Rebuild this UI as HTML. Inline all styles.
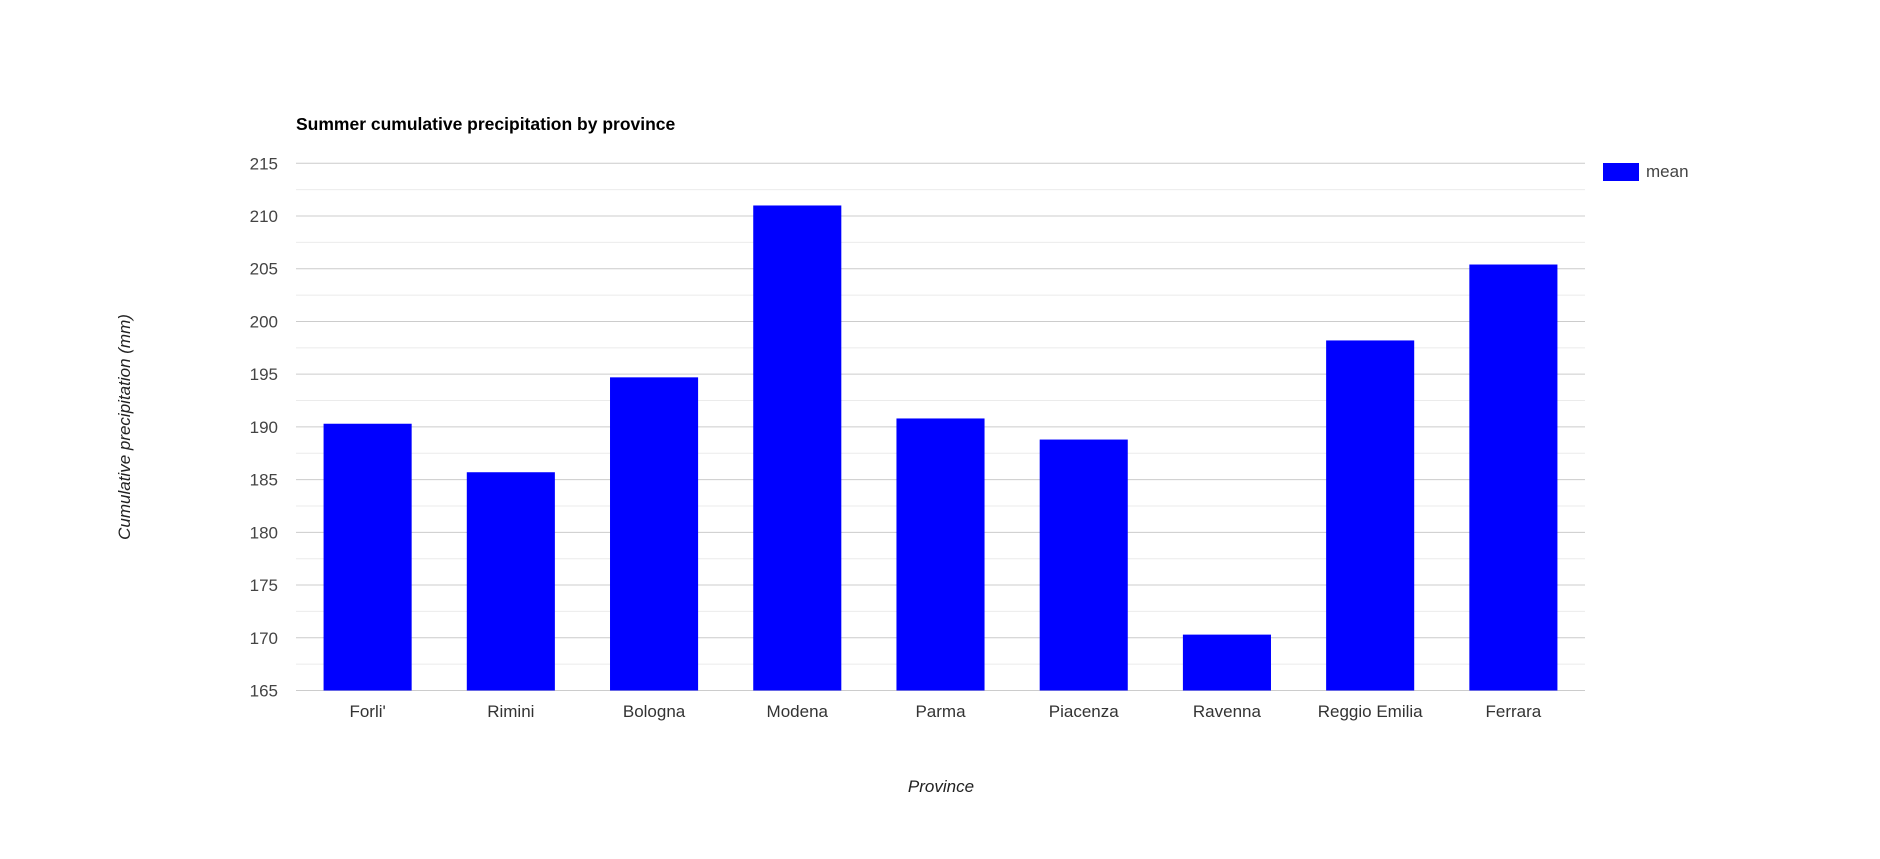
<!DOCTYPE html>
<html><head><meta charset="utf-8"><style>
body{margin:0;background:#fff;}
svg text{font-family:"Liberation Sans",Arial,sans-serif;}
</style></head><body>
<svg id="chart" width="1880" height="854" xmlns="http://www.w3.org/2000/svg">
<rect width="1880" height="854" fill="#fff"/>
<text x="296" y="130" font-size="17.5" font-weight="bold" fill="#000">Summer cumulative precipitation by province</text>
<g id="grid"></g><g id="bars"></g><g id="labels"></g>
<text x="941" y="792" font-size="17" font-style="italic" text-anchor="middle" fill="#222">Province</text>
<text transform="translate(130,427) rotate(-90)" font-size="17" font-style="italic" text-anchor="middle" fill="#222">Cumulative precipitation (mm)</text>
<g>
<rect x="1603" y="163" width="36" height="18" fill="#0000ff"/>
<text x="1646" y="177" font-size="17" fill="#444">mean</text>
</g>
</svg>
<script>
const categories=["Forli'","Rimini","Bologna","Modena","Parma","Piacenza","Ravenna","Reggio Emilia","Ferrara"];
const meanValues=[190.3,185.7,194.7,211.0,190.8,188.8,170.3,198.2,205.4];
const yTicks=[165,170,175,180,185,190,195,200,205,210,215];
const yMin=165,yMax=215;
const L=296,R=1585,T=163.3,B=690.5;
const ns="http://www.w3.org/2000/svg";
function y(v){return B-(v-yMin)/(yMax-yMin)*(B-T);}
const band=(R-L)/categories.length;
function xc(i){return L+band*(i+0.5);}
function mk(tag,attrs,parent){const e=document.createElementNS(ns,tag);for(const k in attrs)e.setAttribute(k,attrs[k]);parent.appendChild(e);return e;}
const grid=document.getElementById('grid'),bars=document.getElementById('bars'),labels=document.getElementById('labels');
for(let k=0;k<yTicks.length-1;k++){
  const m=(yTicks[k]+yTicks[k+1])/2;
  const l=mk('line',{x1:L,x2:R,y1:y(m),y2:y(m),stroke:'#ebebeb','stroke-width':1},grid);
  
  
}
yTicks.forEach(t=>{
  const l=mk('line',{x1:L,x2:R,y1:y(t),y2:y(t),stroke:'#cccccc','stroke-width':1},grid);
  
  
  const tx=mk('text',{x:L-18,y:y(t)+6,'font-size':17,'text-anchor':'end',fill:'#444'},labels);
  tx.textContent=t;
  
  
});
categories.forEach((c,i)=>{
  const w=band*0.615;
  const r=mk('rect',{x:xc(i)-w/2,y:y(meanValues[i]),width:w,height:y(yMin)-y(meanValues[i]),fill:'#0000ff'},bars);
  
  
  const tx=mk('text',{x:xc(i),y:717,'font-size':17,'text-anchor':'middle',fill:'#333'},labels);
  tx.textContent=c;
  
  
});
</script>
</body></html>
